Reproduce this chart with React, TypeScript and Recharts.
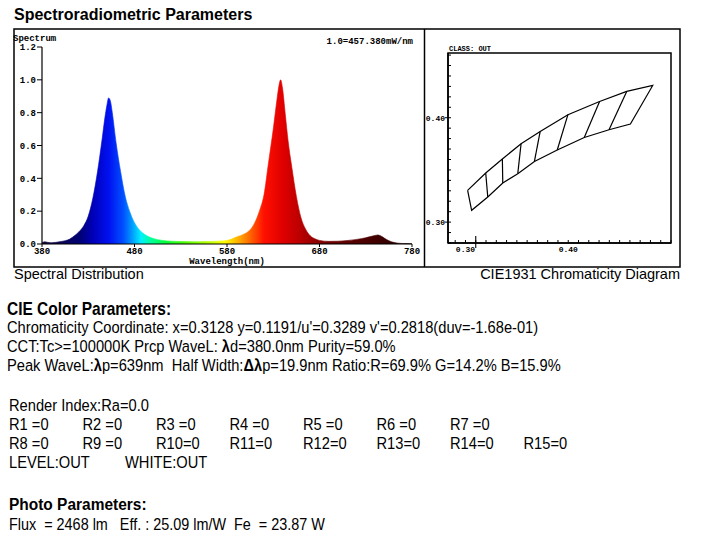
import { AreaChart, Area, XAxis, YAxis, ScatterChart, Scatter, ReferenceLine, ReferenceArea, Label } from 'recharts';

// spectrum, relative intensity (1.0 = 457.380 mW/nm)
const wavelengths = [
  380, 383, 386, 390, 395, 400, 405, 410, 415, 420, 425, 430, 435, 440, 445, 448, 450, 452, 454, 456,
  460, 465, 470, 475, 480, 485, 490, 495, 500, 510, 520, 530, 540, 550, 560, 570, 580, 585, 590, 595,
  600, 605, 610, 615, 620, 625, 630, 634, 636, 638, 640, 643, 646, 650, 655, 660, 665, 670, 675, 680,
  690, 700, 710, 720, 730, 735, 740, 743, 747, 750, 755, 760, 765, 770, 780,
];
const intensity = [
  0.008, 0.014, 0.01, 0.008, 0.01, 0.015, 0.02, 0.03, 0.05, 0.075, 0.11, 0.17, 0.28, 0.44, 0.64, 0.77, 0.84, 0.89, 0.87, 0.8,
  0.62, 0.44, 0.29, 0.195, 0.13, 0.088, 0.062, 0.045, 0.034, 0.022, 0.017, 0.015, 0.014, 0.014, 0.015, 0.017, 0.022, 0.03, 0.042, 0.052,
  0.065, 0.087, 0.13, 0.2, 0.3, 0.5, 0.7, 0.88, 0.96, 1.0, 0.95, 0.79, 0.63, 0.47, 0.29, 0.16, 0.09, 0.05, 0.032, 0.022,
  0.016, 0.017, 0.021, 0.028, 0.038, 0.045, 0.052, 0.055, 0.047, 0.036, 0.02, 0.01, 0.005, 0.003, 0.002,
];
const specXTicks = [380, 480, 580, 680, 780];
const specYTicks = [0, 0.2, 0.4, 0.6, 0.8, 1.0, 1.2];

// colour of the fill along the wavelength axis
const rainbowNm = [380, 420, 435, 452, 468, 478, 487, 497, 512, 535, 560, 577, 592, 606, 620, 640, 660, 690, 740, 780];
const rainbowColor = [
  '#1a0a3a', '#000070', '#0000b8', '#0010f0', '#0050ff', '#00a0ff', '#00f0ff', '#00ffa0', '#00ff40', '#50ff00',
  '#b8ff00', '#ffff00', '#ffb000', '#ff6000', '#ff1000', '#e00000', '#b80000', '#700000', '#420000', '#200000',
];

// CIE1931 bin grid (x, y)
const binTopX = [0.3021, 0.3197, 0.3359, 0.3541, 0.3727, 0.3997, 0.4305, 0.4569, 0.4822];
const binTopY = [0.3304, 0.3471, 0.3605, 0.3751, 0.3869, 0.4029, 0.4156, 0.4252, 0.4309];
const binBotX = [0.3060, 0.3217, 0.3363, 0.3509, 0.3671, 0.3893, 0.4156, 0.4397, 0.4605];
const binBotY = [0.3113, 0.3241, 0.3375, 0.3464, 0.3581, 0.3691, 0.3811, 0.3885, 0.3940];
const chromaXTicks = [0.29, 0.30, 0.31, 0.32, 0.33, 0.34, 0.35, 0.36, 0.37, 0.38, 0.39, 0.40, 0.41, 0.42, 0.43, 0.44, 0.45, 0.46, 0.47, 0.48, 0.49, 0.50];
const chromaYTicks = [0.28, 0.29, 0.30, 0.31, 0.32, 0.33, 0.34, 0.35, 0.36, 0.37, 0.38, 0.39, 0.40, 0.41, 0.42, 0.43, 0.44, 0.45, 0.46];
const chromaLabels = [0.30, 0.40];
const chromaXDomain = [0.283, 0.5];
const chromaYDomain = [0.28, 0.462];
const markX = 0.310;

const MONO = "'Liberation Mono', 'Courier New', monospace";
const SANS = "'Liberation Sans', Arial, sans-serif";

const spectrumData = wavelengths.map((nm, i) => ({ nm, v: intensity[i] }));
const outline = [
  ...binTopX.map((x, i) => ({ x, y: binTopY[i] })),
  ...binBotX.map((x, i) => ({ x, y: binBotY[i] })).reverse(),
];
outline.push(outline[0]);
const rungs = binTopX.slice(1, -1).map((x, i) => [
  { x, y: binTopY[i + 1] },
  { x: binBotX[i + 1], y: binBotY[i + 1] },
]);

const isLabel = (v: number) => chromaLabels.some((l) => Math.abs(l - v) < 1e-6);

function ChromaXTick({ x, y, payload }: any) {
  const v = payload.value as number;
  return (
    <g>
      <line x1={x} x2={x} y1={y} y2={y - 3} stroke="#000" />
      {isLabel(v) && (
        <text x={x} y={y + 9} textAnchor="middle" fontFamily={MONO} fontWeight={700} fontSize={8}>{v.toFixed(2)}</text>
      )}
    </g>
  );
}

function ChromaYTick({ x, y, payload }: any) {
  const v = payload.value as number;
  const lab = isLabel(v);
  return (
    <g>
      <line x1={lab ? x - 3 : x} x2={x + 3} y1={y} y2={y} stroke="#000" />
      {lab && (
        <text x={x - 3} y={y + 3} textAnchor="end" fontFamily={MONO} fontWeight={700} fontSize={8}>{v.toFixed(2)}</text>
      )}
    </g>
  );
}

const noDot = () => <g />;

function Narrow({ x, y, size, sx, bold, children }: any) {
  return (
    <text
      transform={`translate(${x},${y}) scale(${sx},1)`}
      fontFamily={SANS}
      fontSize={size}
      fontWeight={bold ? 700 : 400}
      style={{ whiteSpace: 'pre' }}
    >
      {children}
    </text>
  );
}

const B = ({ children }: any) => <tspan fontWeight={700}>{children}</tspan>;

const rIdx1 = ['R1 =0', 'R2 =0', 'R3 =0', 'R4 =0', 'R5 =0', 'R6 =0', 'R7 =0'];
const rIdx2 = ['R8 =0', 'R9 =0', 'R10=0', 'R11=0', 'R12=0', 'R13=0', 'R14=0', 'R15=0'];

export default function App() {
  const BODY = 16.5;
  const SX = 0.89;
  const LX = 9;
  return (
    <div style={{ position: 'absolute', left: 0, top: 0, width: 726, height: 541, background: '#fff', overflow: 'hidden' }}>
      <div style={{ position: 'absolute', left: 15, top: 29 }}>
        <AreaChart width={409} height={238} data={spectrumData} margin={{ top: 18, right: 12, bottom: 0, left: 0 }}>
          <defs>
            <linearGradient id="specFill" x1="0" y1="0" x2="1" y2="0">
              {rainbowNm.map((nm, i) => (
                <stop key={nm} offset={(nm - 380) / 400} stopColor={rainbowColor[i]} />
              ))}
            </linearGradient>
          </defs>
          <XAxis
            dataKey="nm"
            type="number"
            domain={[380, 780]}
            ticks={specXTicks}
            interval={0}
            height={23}
            tickSize={3}
            tickMargin={1}
            axisLine={{ stroke: '#000', strokeWidth: 1.2 }}
            tickLine={{ stroke: '#000' }}
            tick={{ fontSize: 9, fontFamily: MONO, fontWeight: 700, fill: '#000' }}
          >
            <Label value="Wavelength(nm)" position="insideBottom" offset={3} fontSize={9} fontFamily={MONO} fontWeight={700} fill="#000" />
          </XAxis>
          <YAxis
            type="number"
            domain={[0, 1.2]}
            ticks={specYTicks}
            interval={0}
            width={27}
            tickSize={5}
            tickMargin={1}
            tickFormatter={(v: number) => v.toFixed(1)}
            axisLine={{ stroke: '#000', strokeWidth: 1.2 }}
            tickLine={{ stroke: '#000' }}
            tick={{ fontSize: 9, fontFamily: MONO, fontWeight: 700, fill: '#000' }}
          />
          <Area
            dataKey="v"
            type="monotone"
            baseValue={0}
            fill="url(#specFill)"
            fillOpacity={1}
            stroke="url(#specFill)"
            strokeWidth={0.6}
            dot={false}
            activeDot={false}
            isAnimationActive={false}
          />
        </AreaChart>
      </div>

      <div style={{ position: 'absolute', left: 425, top: 30 }}>
        <ScatterChart width={255} height={237} margin={{ top: 23, right: 9, bottom: 0, left: 0 }}>
          <XAxis
            type="number"
            dataKey="x"
            domain={chromaXDomain}
            allowDataOverflow
            ticks={chromaXTicks}
            interval={0}
            height={24}
            tickSize={0}
            tickMargin={0}
            tickLine={false}
            axisLine={{ stroke: '#000', strokeWidth: 1.5 }}
            tick={(p: any) => <ChromaXTick {...p} />}
          />
          <YAxis
            type="number"
            dataKey="y"
            domain={chromaYDomain}
            allowDataOverflow
            ticks={chromaYTicks}
            interval={0}
            width={23}
            tickSize={0}
            tickMargin={0}
            tickLine={false}
            axisLine={{ stroke: '#000', strokeWidth: 1.5 }}
            tick={(p: any) => <ChromaYTick {...p} />}
          />
          <ReferenceArea
            x1={chromaXDomain[0]}
            x2={chromaXDomain[1]}
            y1={chromaYDomain[0]}
            y2={chromaYDomain[1]}
            fill="none"
            fillOpacity={0}
            stroke="#000"
            strokeWidth={1.5}
            ifOverflow="visible"
          />
          <Scatter data={outline} line={{ stroke: '#000', strokeWidth: 1.2 }} shape={noDot} isAnimationActive={false} />
          {rungs.map((seg, i) => (
            <Scatter key={i} data={seg} line={{ stroke: '#000', strokeWidth: 1.2 }} shape={noDot} isAnimationActive={false} />
          ))}
          <ReferenceLine
            segment={[{ x: markX, y: 0.2752 }, { x: markX, y: 0.2867 }]}
            stroke="#000"
            strokeWidth={1.1}
            ifOverflow="visible"
          />
        </ScatterChart>
      </div>

      <svg width={726} height={541} style={{ position: 'absolute', left: 0, top: 0, pointerEvents: 'none' }}>
        <rect x={14} y={29} width={666} height={238} fill="none" stroke="#000" strokeWidth={1.5} />
        <line x1={424.5} x2={424.5} y1={29} y2={267} stroke="#000" strokeWidth={1.5} />

        <text x={14} y={20} fontFamily={SANS} fontWeight={700} fontSize={16}>Spectroradiometric Parameters</text>
        <text x={13} y={41} fontFamily={MONO} fontWeight={700} fontSize={9}>Spectrum</text>
        <text x={413} y={44} textAnchor="end" fontFamily={MONO} fontWeight={700} fontSize={9}>1.0=457.380mW/nm</text>
        <text x={449} y={51} fontFamily={MONO} fontWeight={700} fontSize={7}>CLASS: OUT</text>

        <text x={14} y={279} fontFamily={SANS} fontSize={14.5}>Spectral Distribution</text>
        <text x={680} y={279} textAnchor="end" fontFamily={SANS} fontSize={14.5}>CIE1931 Chromaticity Diagram</text>

        <Narrow x={7} y={315} size={18} sx={0.86} bold>CIE Color Parameters:</Narrow>
        <Narrow x={7} y={333} size={BODY} sx={SX}>Chromaticity Coordinate: x=0.3128 y=0.1191/u'=0.3289 v'=0.2818(duv=-1.68e-01)</Narrow>
        <Narrow x={7} y={352} size={BODY} sx={SX}>CCT:Tc{'>'}=100000K Prcp WaveL: <B>λ</B>d=380.0nm Purity=59.0%</Narrow>
        <Narrow x={7} y={371} size={BODY} sx={SX}>Peak WaveL:<B>λ</B>p=639nm  Half Width:<B>Δλ</B>p=19.9nm Ratio:R=69.9% G=14.2% B=15.9%</Narrow>

        <Narrow x={LX} y={411} size={BODY} sx={SX}>Render Index:Ra=0.0</Narrow>
        {rIdx1.map((t, i) => (
          <Narrow key={t} x={LX + i * 73.5} y={430} size={BODY} sx={SX}>{t}</Narrow>
        ))}
        {rIdx2.map((t, i) => (
          <Narrow key={t} x={LX + i * 73.5} y={449} size={BODY} sx={SX}>{t}</Narrow>
        ))}
        <Narrow x={LX} y={468} size={BODY} sx={SX}>LEVEL:OUT</Narrow>
        <Narrow x={LX + 116} y={468} size={BODY} sx={SX}>WHITE:OUT</Narrow>

        <Narrow x={LX} y={510} size={17} sx={0.91} bold>Photo Parameters:</Narrow>
        <Narrow x={LX} y={530} size={16} sx={0.9}>Flux  = 2468 lm   Eff. : 25.09 lm/W  Fe  = 23.87 W</Narrow>
      </svg>
    </div>
  );
}
